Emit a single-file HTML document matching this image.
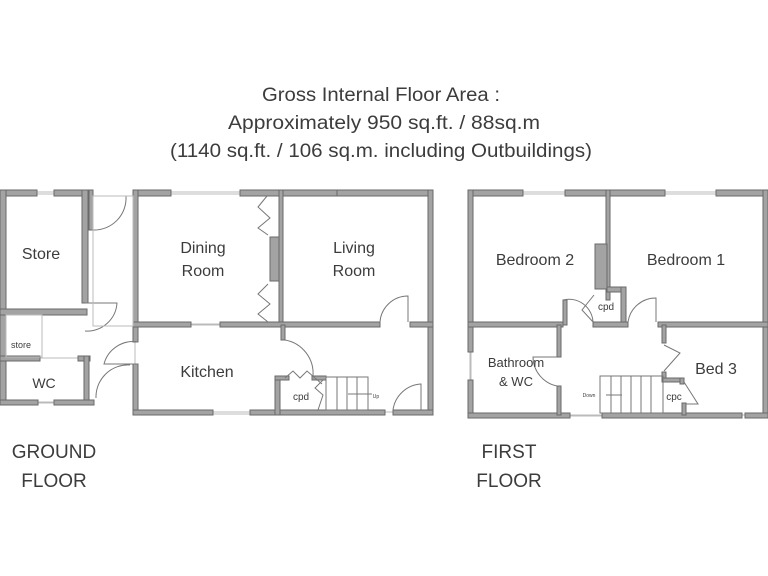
<!DOCTYPE html>
<html><head><meta charset="utf-8"><style>
html,body{margin:0;padding:0;background:#fff;width:768px;height:576px;overflow:hidden}
svg{display:block}
.w{fill:#a3a3a3;stroke:#6a6a6a;stroke-width:1}
.t{font-family:"Liberation Sans",sans-serif;fill:#3c3c3c}
.l{fill:none;stroke:#777;stroke-width:1}
.g{fill:none;stroke:#bbb;stroke-width:1}
</style></head><body>
<svg width="768" height="576" viewBox="0 0 768 576" xmlns="http://www.w3.org/2000/svg">
<g class="t" text-anchor="middle" font-size="19">
<text x="381" y="101" textLength="238" lengthAdjust="spacingAndGlyphs">Gross Internal Floor Area :</text>
<text x="384" y="129" textLength="312" lengthAdjust="spacingAndGlyphs">Approximately 950 sq.ft. / 88sq.m</text>
<text x="381" y="157" textLength="422" lengthAdjust="spacingAndGlyphs">(1140 sq.ft. / 106 sq.m. including Outbuildings)</text>
</g>
<!-- windows -->
<g class="g">
<path d="M37 192 H54 M37 194 H54 M171 192 H240 M171 194 H240 M379 192 H337"/>
<path d="M213 412 H250 M213 414 H250 M385 412 H393 M38 402 H54 M38 403 H54"/>
<path d="M523 192 H565 M523 194 H565 M665 192 H716 M665 194 H716"/>
<path d="M570 415 H602 M570 416 H602 M742 415 H745 M191 324 H220 M191 325 H220"/>
<path d="M470 352 V380 M471 352 V380 M40 358 H78 M135 342 V364"/>
</g>
<!-- GROUND FLOOR -->
<g class="w">
<rect x="0" y="190" width="37" height="6"/><rect x="54" y="190" width="36" height="6"/>
<rect x="0" y="190" width="6" height="215"/>
<rect x="82" y="190" width="6" height="113"/>
<rect x="0" y="309" width="87" height="6"/>
<rect x="0" y="356" width="40" height="5"/><rect x="78" y="356" width="12" height="5"/>
<rect x="84" y="356" width="5" height="45"/>
<rect x="0" y="400" width="38" height="5"/><rect x="54" y="400" width="40" height="5"/>
<rect x="89" y="190" width="4" height="40"/>
<rect x="133" y="190" width="38" height="6"/><rect x="240" y="190" width="139" height="6"/><rect x="337" y="190" width="96" height="6"/>
<rect x="133" y="190" width="5" height="152"/><rect x="133" y="364" width="5" height="51"/>
<rect x="428" y="190" width="5" height="225"/>
<rect x="133" y="410" width="80" height="5"/><rect x="250" y="410" width="135" height="5"/><rect x="393" y="410" width="40" height="5"/>
<rect x="279" y="190" width="4" height="135"/>
<rect x="270" y="237" width="9" height="44"/>
<rect x="133" y="322" width="58" height="5"/><rect x="220" y="322" width="160" height="5"/><rect x="410" y="322" width="23" height="5"/>
<rect x="281" y="325" width="4" height="15"/>
<rect x="275" y="376" width="5" height="39"/><rect x="275" y="376" width="14" height="4"/><rect x="312" y="376" width="14" height="4"/>
</g>
<g class="l">
<path d="M93 230 A32 32 0 0 0 126 196"/>
<path d="M85 303 L117 303 A30 30 0 0 1 85 331"/>
<path d="M138 342 A30 30 0 0 0 104 364 L138 364"/>
<path d="M130 365 A32 32 0 0 0 96 398"/>
<path d="M380 322 A28 28 0 0 1 408 296 L408 322"/>
<path d="M285 340 A34 34 0 0 1 313 376"/>
<path d="M393 410 A30 30 0 0 1 421 384 L421 410"/>
<path d="M267 196 L258 207 L270 218 L258 228 L268 235"/>
<path d="M268 284 L258 294 L270 304 L258 314 L268 322"/>
<path d="M285 378 L293 371 L300 378 L307 371 L315 378 L322 384"/>
<path d="M323 380 L315 388 L323 395 L318 410"/>
<rect x="326" y="377" width="42" height="33"/>
<path d="M337 377 V410 M347 377 V410 M357 377 V410 M348 394 H372"/>
</g>
<g class="g"><rect x="6" y="315" width="36" height="42"/><rect x="93" y="196" width="40" height="130"/></g>
<!-- FIRST FLOOR -->
<g class="w">
<rect x="468" y="190" width="55" height="6"/><rect x="565" y="190" width="100" height="6"/><rect x="716" y="190" width="52" height="6"/>
<rect x="468" y="190" width="5" height="162"/><rect x="468" y="380" width="5" height="38"/>
<rect x="763" y="190" width="5" height="228"/>
<rect x="468" y="413" width="102" height="5"/><rect x="602" y="413" width="140" height="5"/><rect x="745" y="413" width="23" height="5"/>
<rect x="606" y="190" width="4" height="110"/>
<rect x="595" y="244" width="12" height="45"/>
<rect x="607" y="287" width="18" height="5"/><rect x="621" y="287" width="5" height="38"/>
<rect x="468" y="322" width="95" height="5"/><rect x="593" y="322" width="35" height="5"/><rect x="658" y="322" width="110" height="5"/>
<rect x="563" y="300" width="4" height="25"/>
<rect x="557" y="325" width="4" height="32"/><rect x="557" y="386" width="4" height="29"/>
<rect x="662" y="325" width="4" height="18"/><rect x="662" y="372" width="4" height="8"/>
<rect x="662" y="378" width="22" height="4"/><rect x="680" y="378" width="4" height="6"/><rect x="682" y="403" width="4" height="12"/>
</g>
<g class="l">
<path d="M594 323 L582 310 L594 295"/>
<path d="M563 300 A24 24 0 0 1 593 322"/>
<path d="M628 322 A28 28 0 0 1 656 298 L656 322"/>
<path d="M557 357 L533 357 A30 30 0 0 0 557 386"/>
<path d="M664 345 L680 353 L664 371"/>
<path d="M684 382 L698 404 L686 404"/>
<rect x="600" y="376" width="63" height="37"/>
<path d="M611 376 V413 M621 376 V413 M631 376 V413 M641 376 V413 M651 376 V413 M606 395 H622"/>
</g>
<g class="t" text-anchor="middle" font-size="16">
<text x="41" y="259">Store</text>
<text x="203" y="253">Dining</text><text x="203" y="276">Room</text>
<text x="354" y="253">Living</text><text x="354" y="276">Room</text>
<text x="207" y="377">Kitchen</text>
<text x="44" y="388" font-size="14">WC</text>
<text x="21" y="348" font-size="9">store</text>
<text x="301" y="400" font-size="10">cpd</text>
<text x="376" y="398" font-size="5">Up</text>
<text x="535" y="265">Bedroom 2</text>
<text x="686" y="265">Bedroom 1</text>
<text x="716" y="374">Bed 3</text>
<text x="516" y="367" font-size="13">Bathroom</text><text x="516" y="386" font-size="13">&amp; WC</text>
<text x="606" y="310" font-size="10">cpd</text>
<text x="674" y="400" font-size="10">cpc</text>
<text x="589" y="397" font-size="5">Down</text>
<text x="54" y="458" font-size="19">GROUND</text><text x="54" y="487" font-size="19">FLOOR</text>
<text x="509" y="458" font-size="19">FIRST</text><text x="509" y="487" font-size="19">FLOOR</text>
</g>
</svg>
</body></html>
